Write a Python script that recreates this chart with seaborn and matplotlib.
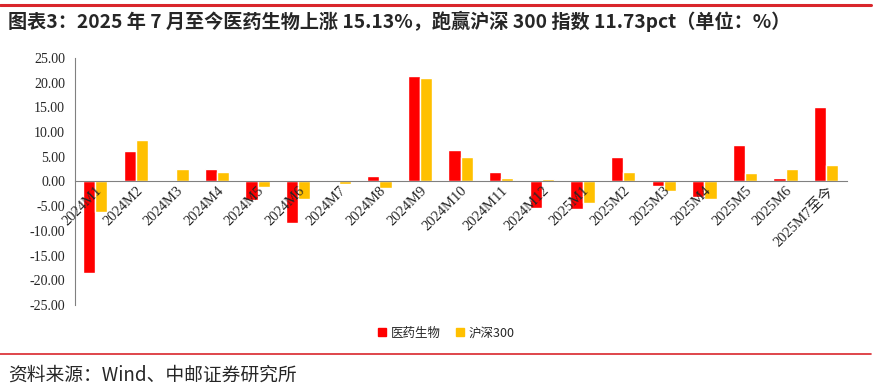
import matplotlib
matplotlib.use('Agg')
import matplotlib.pyplot as plt
import seaborn as sns
import pandas as pd
from matplotlib.lines import Line2D
from matplotlib.ticker import FixedLocator, MultipleLocator

# monthly returns (%)
months = ['2024M1', '2024M2', '2024M3', '2024M4', '2024M5', '2024M6', '2024M7',
          '2024M8', '2024M9', '2024M10', '2024M11', '2024M12', '2025M1', '2025M2',
          '2025M3', '2025M4', '2025M5', '2025M6', '2025M7至今']
pharma = [-18.6, 6.2, 0.05, 2.6, -3.8, -8.4, 0.2, 1.2, 21.3, 6.4, 2.0, -5.45,
          -5.6, 5.05, -1.0, -3.2, 7.35, 0.8, 15.13]
hs300 = [-6.2, 8.35, 2.5, 1.95, -1.15, -3.6, -0.5, -1.35, 21.0, 5.05, 0.8, 0.5,
         -4.45, 1.95, -2.0, -3.55, 1.8, 2.5, 3.40]
series_names = ['医药生物', '沪深300']
colors = ['#FF0000', '#FFC000']

df = pd.DataFrame({'month': months * 2,
                   'value': pharma + hs300,
                   'series': [series_names[0]] * len(months) + [series_names[1]] * len(months)})

sns.set_style('white')
plt.rcParams['font.family'] = ['Liberation Serif', 'Noto Sans CJK SC']

fig = plt.figure(figsize=(8.8, 3.89), dpi=100)
ax = fig.add_axes([0.085, 0.216, 0.877, 0.635])

sns.barplot(data=df, x='month', y='value', hue='series', palette=colors,
            width=0.6, gap=0, saturation=1, legend=False, ax=ax)

ax.set_ylim(-25, 25)
ax.set_xlim(-0.5, len(months) - 0.5)
ax.yaxis.set_major_locator(MultipleLocator(5))
ax.set_yticklabels([f'{v:.2f}' for v in ax.get_yticks()], fontsize=10)
ax.set_xlabel('')
ax.set_ylabel('')
ax.set_axisbelow(False)  # labels sit on top of the bars

for s in ['top', 'right']:
    ax.spines[s].set_visible(False)
ax.spines['left'].set_color('#808080')
ax.spines['bottom'].set_color('#808080')
ax.spines['bottom'].set_position(('data', 0))
ax.tick_params(axis='y', direction='out', length=4, color='#808080', pad=3)

# category labels under the zero line, boundary ticks pointing up
ax.xaxis.set_minor_locator(FixedLocator([i + 0.5 for i in range(len(months))]))
ax.tick_params(axis='x', which='major', length=0, pad=2)
ax.tick_params(axis='x', which='minor', direction='in', length=4, color='#404040')
ax.set_xticks(range(len(months)))
ax.set_xticklabels(months, rotation=45, ha='right', rotation_mode='anchor', fontsize=10.5)

# legend
handles = [Line2D([], [], marker='s', linestyle='', markersize=5.5, color=c) for c in colors]
fig.legend(handles, series_names, loc='center', bbox_to_anchor=(0.505, 0.143), ncol=2,
           frameon=False, handletextpad=0.1, columnspacing=0.9, handlelength=1.2,
           prop={'family': ['Noto Sans CJK SC'], 'size': 9})

# title, source and rules
fig.add_artist(Line2D([0.0, 0.99], [0.987, 0.987], color='#D9262C', linewidth=2.2))
fig.text(0.009, 0.945, '图表3：2025 年 7 月至今医药生物上涨 15.13%，跑赢沪深 300 指数 11.73pct（单位：%）',
         fontsize=13.8, fontweight='bold', family=['Noto Sans CJK SC'], va='center')
fig.add_artist(Line2D([0.0, 0.99], [0.09, 0.09], color='#D9262C', linewidth=1.2))
fig.text(0.009, 0.036, '资料来源：Wind、中邮证券研究所', fontsize=13.5,
         family=['Noto Sans CJK SC'], va='center')

fig.savefig('out.png', dpi=100)
